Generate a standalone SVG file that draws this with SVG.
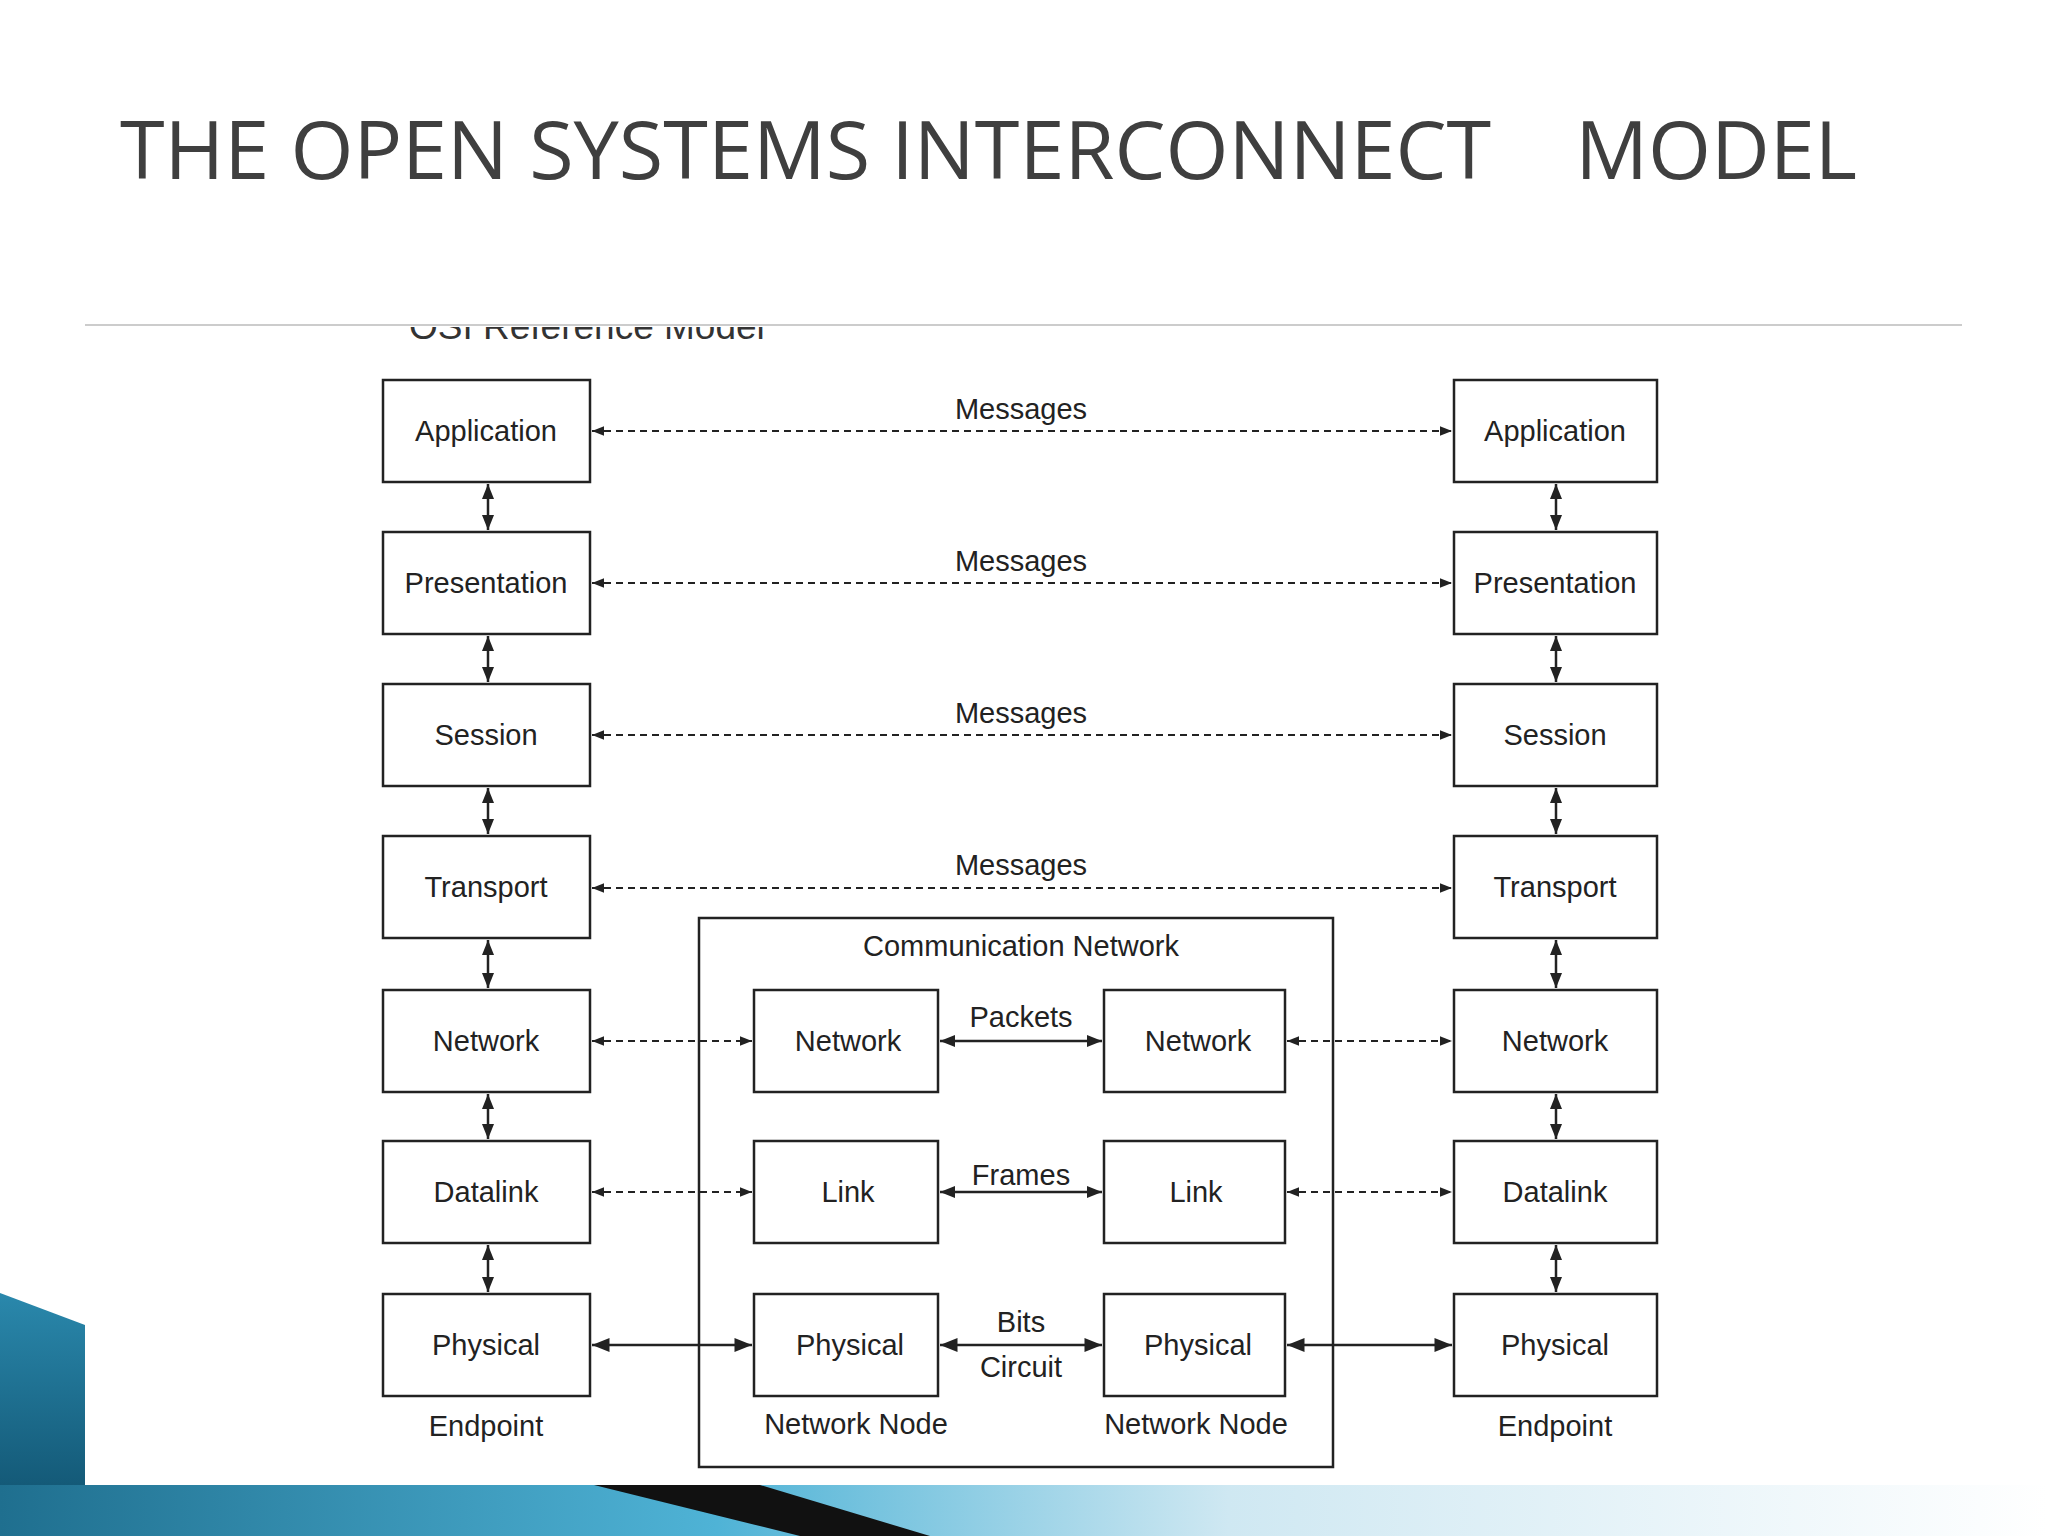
<svg xmlns="http://www.w3.org/2000/svg" width="2048" height="1536" viewBox="0 0 2048 1536">
<defs>
<style>
.b{fill:#fff;stroke:#222;stroke-width:2.5}
.t{font-family:"Liberation Sans",Arial,sans-serif;font-size:29px;fill:#222;text-anchor:middle}
.d{stroke:#222;stroke-width:2;stroke-dasharray:7,5;fill:none}
.s{stroke:#222;stroke-width:2.5;fill:none}
</style>
<marker id="a" viewBox="0 0 10 10" refX="10" refY="5" markerWidth="6" markerHeight="6" orient="auto-start-reverse"><path d="M0,1 L10,5 L0,9 z" fill="#222"/></marker>
<marker id="A" viewBox="0 0 10 10" refX="10" refY="5" markerWidth="9" markerHeight="7" orient="auto-start-reverse"><path d="M0,1 L10,5 L0,9 z" fill="#222"/></marker>
<linearGradient id="g" x1="0" y1="0" x2="1" y2="0"><stop offset="0" stop-color="#1f6f8f"/><stop offset="0.35" stop-color="#4fb3d6"/><stop offset="0.6" stop-color="#cfe8f2"/><stop offset="1" stop-color="#ffffff"/></linearGradient>
<linearGradient id="g2" x1="0" y1="0" x2="0" y2="1"><stop offset="0" stop-color="#2a88ac"/><stop offset="1" stop-color="#145a78"/></linearGradient>
<clipPath id="c"><rect x="0" y="327" width="2048" height="40"/></clipPath>
</defs>
<rect width="2048" height="1536" fill="#fff"/>
<text x="120" y="179" font-family="'Open Sans','Liberation Sans',sans-serif" font-size="81" fill="#3f3f3f" xml:space="preserve">THE OPEN SYSTEMS INTERCONNECT    MODEL</text>
<line x1="85" y1="325" x2="1962" y2="325" stroke="#ccc" stroke-width="2"/>
<text x="409" y="339" clip-path="url(#c)" font-family="'Liberation Sans',sans-serif" font-size="37" fill="#333">OSI Reference Model</text>
<g id="bottom-deco">
<polygon points="0,1293 85,1325 85,1485 0,1485" fill="url(#g2)"/>
<rect x="0" y="1485" width="2048" height="51" fill="url(#g)"/>
<polygon points="594,1485 760,1485 930,1536 800,1536" fill="#111"/>
</g>
<g id="comm-network"><rect x="699" y="918" width="634" height="549" fill="none" stroke="#222" stroke-width="2.5"/><text class="t" x="1021" y="956">Communication Network</text></g>
<g id="left-app"><rect class="b" x="383" y="380" width="207" height="102"/><text class="t" x="486" y="441">Application</text></g>
<g id="left-pres"><rect class="b" x="383" y="532" width="207" height="102"/><text class="t" x="486" y="593">Presentation</text></g>
<g id="left-sess"><rect class="b" x="383" y="684" width="207" height="102"/><text class="t" x="486" y="745">Session</text></g>
<g id="left-trans"><rect class="b" x="383" y="836" width="207" height="102"/><text class="t" x="486" y="897">Transport</text></g>
<g id="left-net"><rect class="b" x="383" y="990" width="207" height="102"/><text class="t" x="486" y="1051">Network</text></g>
<g id="left-dl"><rect class="b" x="383" y="1141" width="207" height="102"/><text class="t" x="486" y="1202">Datalink</text></g>
<g id="left-phy"><rect class="b" x="383" y="1294" width="207" height="102"/><text class="t" x="486" y="1355">Physical</text><text class="t" x="486" y="1436">Endpoint</text></g>
<g id="right-app"><rect class="b" x="1454" y="380" width="203" height="102"/><text class="t" x="1555" y="441">Application</text></g>
<g id="right-pres"><rect class="b" x="1454" y="532" width="203" height="102"/><text class="t" x="1555" y="593">Presentation</text></g>
<g id="right-sess"><rect class="b" x="1454" y="684" width="203" height="102"/><text class="t" x="1555" y="745">Session</text></g>
<g id="right-trans"><rect class="b" x="1454" y="836" width="203" height="102"/><text class="t" x="1555" y="897">Transport</text></g>
<g id="right-net"><rect class="b" x="1454" y="990" width="203" height="102"/><text class="t" x="1555" y="1051">Network</text></g>
<g id="right-dl"><rect class="b" x="1454" y="1141" width="203" height="102"/><text class="t" x="1555" y="1202">Datalink</text></g>
<g id="right-phy"><rect class="b" x="1454" y="1294" width="203" height="102"/><text class="t" x="1555" y="1355">Physical</text><text class="t" x="1555" y="1436">Endpoint</text></g>
<g id="n1-net"><rect class="b" x="754" y="990" width="184" height="102"/><text class="t" x="848" y="1051">Network</text></g>
<g id="n1-link"><rect class="b" x="754" y="1141" width="184" height="102"/><text class="t" x="848" y="1202">Link</text></g>
<g id="n1-phy"><rect class="b" x="754" y="1294" width="184" height="102"/><text class="t" x="850" y="1355">Physical</text><text class="t" x="856" y="1434">Network Node</text></g>
<g id="n2-net"><rect class="b" x="1104" y="990" width="181" height="102"/><text class="t" x="1198" y="1051">Network</text></g>
<g id="n2-link"><rect class="b" x="1104" y="1141" width="181" height="102"/><text class="t" x="1196" y="1202">Link</text></g>
<g id="n2-phy"><rect class="b" x="1104" y="1294" width="181" height="102"/><text class="t" x="1198" y="1355">Physical</text><text class="t" x="1196" y="1434">Network Node</text></g>
<g id="connectors">
<line class="d" x1="592" y1="431" x2="1452" y2="431" marker-start="url(#a)" marker-end="url(#a)"/>
<line class="d" x1="592" y1="583" x2="1452" y2="583" marker-start="url(#a)" marker-end="url(#a)"/>
<line class="d" x1="592" y1="735" x2="1452" y2="735" marker-start="url(#a)" marker-end="url(#a)"/>
<line class="d" x1="592" y1="888" x2="1452" y2="888" marker-start="url(#a)" marker-end="url(#a)"/>
<line class="d" x1="592" y1="1041" x2="752" y2="1041" marker-start="url(#a)" marker-end="url(#a)"/>
<line class="d" x1="1287" y1="1041" x2="1452" y2="1041" marker-start="url(#a)" marker-end="url(#a)"/>
<line class="d" x1="592" y1="1192" x2="752" y2="1192" marker-start="url(#a)" marker-end="url(#a)"/>
<line class="d" x1="1287" y1="1192" x2="1452" y2="1192" marker-start="url(#a)" marker-end="url(#a)"/>
<line class="s" x1="940" y1="1041" x2="1102" y2="1041" marker-start="url(#a)" marker-end="url(#a)"/>
<line class="s" x1="940" y1="1192" x2="1102" y2="1192" marker-start="url(#a)" marker-end="url(#a)"/>
<line class="s" x1="592" y1="1345" x2="752" y2="1345" marker-start="url(#A)" marker-end="url(#A)"/>
<line class="s" x1="940" y1="1345" x2="1102" y2="1345" marker-start="url(#A)" marker-end="url(#A)"/>
<line class="s" x1="1287" y1="1345" x2="1452" y2="1345" marker-start="url(#A)" marker-end="url(#A)"/>
<g class="s">
<line x1="488" y1="484" x2="488" y2="530" marker-start="url(#a)" marker-end="url(#a)"/>
<line x1="488" y1="636" x2="488" y2="682" marker-start="url(#a)" marker-end="url(#a)"/>
<line x1="488" y1="788" x2="488" y2="834" marker-start="url(#a)" marker-end="url(#a)"/>
<line x1="488" y1="940" x2="488" y2="988" marker-start="url(#a)" marker-end="url(#a)"/>
<line x1="488" y1="1094" x2="488" y2="1139" marker-start="url(#a)" marker-end="url(#a)"/>
<line x1="488" y1="1245" x2="488" y2="1292" marker-start="url(#a)" marker-end="url(#a)"/>
<line x1="1556" y1="484" x2="1556" y2="530" marker-start="url(#a)" marker-end="url(#a)"/>
<line x1="1556" y1="636" x2="1556" y2="682" marker-start="url(#a)" marker-end="url(#a)"/>
<line x1="1556" y1="788" x2="1556" y2="834" marker-start="url(#a)" marker-end="url(#a)"/>
<line x1="1556" y1="940" x2="1556" y2="988" marker-start="url(#a)" marker-end="url(#a)"/>
<line x1="1556" y1="1094" x2="1556" y2="1139" marker-start="url(#a)" marker-end="url(#a)"/>
<line x1="1556" y1="1245" x2="1556" y2="1292" marker-start="url(#a)" marker-end="url(#a)"/>
</g>
<text class="t" x="1021" y="419">Messages</text>
<text class="t" x="1021" y="571">Messages</text>
<text class="t" x="1021" y="723">Messages</text>
<text class="t" x="1021" y="875">Messages</text>
<text class="t" x="1021" y="1027">Packets</text>
<text class="t" x="1021" y="1185">Frames</text>
<text class="t" x="1021" y="1332">Bits</text>
<text class="t" x="1021" y="1377">Circuit</text>
</g>
</svg>
